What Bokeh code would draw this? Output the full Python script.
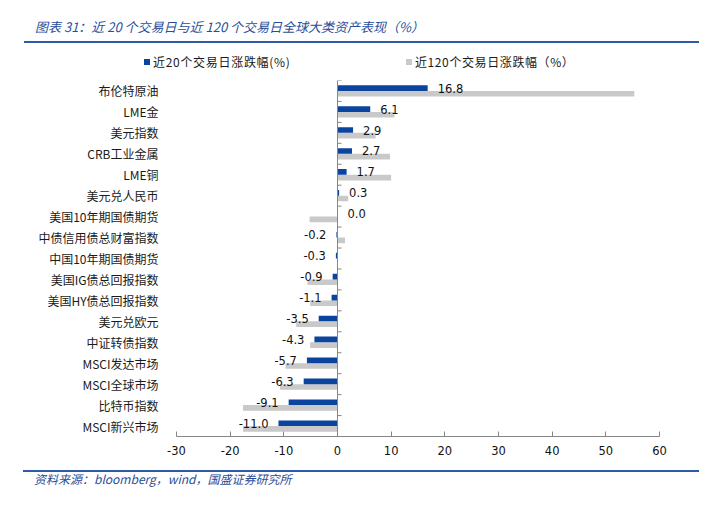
from bokeh.plotting import figure
from bokeh.layouts import column
from bokeh.models import Range1d, FixedTicker, Span, ColumnDataSource, Div
from bokeh.core.properties import value
from bokeh.embed import file_html
from bokeh.resources import INLINE

categories = ["布伦特原油", "LME金", "美元指数", "CRB工业金属", "LME铜", "美元兑人民币",
              "美国10年期国债期货", "中债信用债总财富指数", "中国10年期国债期货",
              "美国IG债总回报指数", "美国HY债总回报指数", "美元兑欧元", "中证转债指数",
              "MSCI发达市场", "MSCI全球市场", "比特币指数", "MSCI新兴市场"]
recent20 = [16.8, 6.1, 2.9, 2.7, 1.7, 0.3, 0.0, -0.2, -0.3, -0.9, -1.1, -3.5, -4.3,
            -5.7, -6.3, -9.1, -11.0]
recent120 = [55.3, 10.6, 7.1, 9.8, 10.0, 2.0, -5.2, 1.4, 0.0, -5.6, -5.1, -7.7, -5.1,
             -9.7, -10.7, -17.6, -17.6]
x_ticks = [-30, -20, -10, 0, 10, 20, 30, 40, 50, 60]
x_tick_labels = ["-30", "-20", "-10", "0", "10", "20", "30", "40", "50", "60"]
title_text = "图表 31：近 20 个交易日与近 120 个交易日全球大类资产表现（%）"
source_text = "资料来源：bloomberg，wind，国盛证券研究所"
series_names = ["近20个交易日涨跌幅(%)", "近120个交易日涨跌幅（%）"]

BLUE = "#0B449E"
GRAY = "#C9C9C9"
AXIS = "#868686"
TITLE_BLUE = "#2A4D99"
RULE = "#2E5BA8"
CJK = "Noto Sans CJK SC"
LATIN = "DejaVu Sans"

n = len(categories)
idx = list(range(n))
W = 717
TOP_H, FIG_H, BOT_H = 72, 390, 55

# ---------------- header (title, rule, legend) ----------------
top_html = f"""
<div style="position:relative;width:{W}px;height:{TOP_H}px;overflow:hidden;background:white;">
  <div style="position:absolute;left:35px;top:18px;line-height:18px;font-family:'{CJK}';
              font-size:13px;font-style:italic;color:{TITLE_BLUE};white-space:nowrap;">{title_text}</div>
  <div style="position:absolute;left:24px;top:41px;width:675px;height:2px;background:{RULE};"></div>
  <div style="position:absolute;left:144px;top:59px;width:6px;height:6px;background:{BLUE};"></div>
  <div style="position:absolute;left:153px;top:53px;line-height:18px;font-family:'{CJK}';
              font-size:12px;letter-spacing:0.7px;color:#1a1a1a;white-space:nowrap;">{series_names[0]}</div>
  <div style="position:absolute;left:406px;top:59px;width:6px;height:6px;background:{GRAY};"></div>
  <div style="position:absolute;left:415px;top:53px;line-height:18px;font-family:'{CJK}';
              font-size:12px;letter-spacing:0.6px;color:#1a1a1a;white-space:nowrap;">{series_names[1]}</div>
</div>
"""
top_div = Div(text=top_html, width=W, height=TOP_H, margin=0)

# ---------------- chart ----------------
p = figure(width=W, height=FIG_H, output_backend="svg", toolbar_location=None,
           x_range=Range1d(x_ticks[0], x_ticks[-1]), y_range=Range1d(n - 0.5, -0.5),
           min_border_left=176, min_border_right=58, min_border_top=8,
           min_border_bottom=26, margin=0)
p.outline_line_color = None
p.xgrid.visible = False
p.ygrid.visible = False

src = ColumnDataSource(dict(
    y=idx,
    yb=[i - 0.135 for i in idx],
    yg=[i + 0.135 for i in idx],
    v20=recent20,
    v120=recent120,
    lbl=["%.1f" % v for v in recent20],
    align=["left" if v >= 0 else "right" for v in recent20],
    xoff=[10 if v >= 0 else -10 for v in recent20],
))

p.hbar(y="yg", left=0, right="v120", height=0.27, source=src,
       fill_color=GRAY, line_color=None)
p.hbar(y="yb", left=0, right="v20", height=0.27, source=src,
       fill_color=BLUE, line_color=None)

p.text(x="v20", y="yb", text="lbl", source=src, text_align="align", x_offset="xoff",
       text_baseline="middle", text_font_size="11.5px", text_font=value(LATIN),
       text_color="#111111")

# vertical axis at zero with category-boundary ticks
p.add_layout(Span(location=0, dimension="height", line_color=AXIS, line_width=1))
xr = x_ticks[-1] - x_ticks[0]
tick_len = 4 * xr / 483.0
bounds = [i - 0.5 for i in range(n)]
p.segment(x0=[0] * len(bounds), x1=[tick_len] * len(bounds), y0=bounds, y1=bounds,
          line_color=AXIS, line_width=1)

xa = p.xaxis[0]
xa.ticker = FixedTicker(ticks=x_ticks)
xa.major_label_overrides = {t: s for t, s in zip(x_ticks, x_tick_labels)}
xa.axis_line_color = AXIS
xa.major_tick_line_color = AXIS
xa.major_tick_in = 5
xa.major_tick_out = 0
xa.minor_tick_line_color = None
xa.major_label_text_font = LATIN
xa.major_label_text_font_size = "11.5px"
xa.major_label_text_color = "#111111"
xa.major_label_standoff = 9

ya = p.yaxis[0]
ya.ticker = FixedTicker(ticks=idx)
ya.major_label_overrides = {i: c for i, c in zip(idx, categories)}
ya.axis_line_color = None
ya.major_tick_line_color = None
ya.minor_tick_line_color = None
ya.major_label_text_font = CJK
ya.major_label_text_font_size = "12px"
ya.major_label_text_color = "#1a1a1a"
ya.major_label_standoff = 12

# ---------------- footer (rule, source) ----------------
bot_html = f"""
<div style="position:relative;width:{W}px;height:{BOT_H}px;overflow:hidden;background:white;">
  <div style="position:absolute;left:23px;top:8px;width:676px;height:2px;background:{RULE};"></div>
  <div style="position:absolute;left:34px;top:8px;line-height:18px;font-family:'{CJK}';
              font-size:12px;font-style:italic;color:{TITLE_BLUE};white-space:nowrap;">{source_text}</div>
</div>
"""
bot_div = Div(text=bot_html, width=W, height=BOT_H, margin=0)

layout = column(top_div, p, bot_div, spacing=0)
open("out.html", "w").write(file_html(layout, INLINE))
